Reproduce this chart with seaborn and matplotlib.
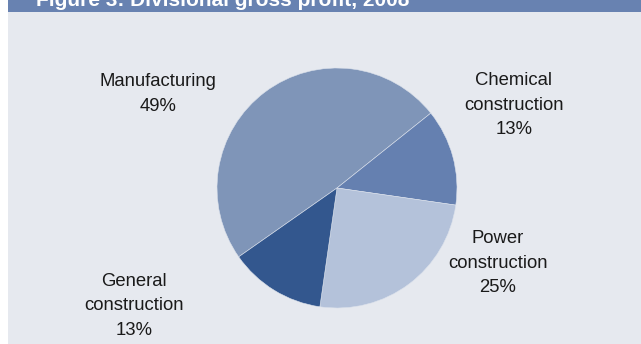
import matplotlib
matplotlib.use("Agg")
import matplotlib.pyplot as plt
import seaborn as sns
from matplotlib.patches import Rectangle

# Gross profit split by business segment
segments = ["Manufacturing", "Chemical\nconstruction", "Power\nconstruction", "General\nconstruction"]
shares = [49, 13, 25, 13]
segment_colors = ["#7F95B8", "#6580B0", "#B4C2DA", "#33578E"]
title = "Figure 3: Divisional gross profit, 2008"

sns.set_theme(style="white")
plt.rcParams["font.family"] = ["Liberation Sans", "DejaVu Sans"]

W, H = 641, 344
fig = plt.figure(figsize=(W / 100, H / 100), dpi=100, facecolor="white")

# panel background and header band
fig.patches.append(Rectangle((8 / W, 0), 1 - 8 / W, 1, transform=fig.transFigure,
                             facecolor="#E6E9EF", edgecolor="none", zorder=0))
fig.patches.append(Rectangle((8 / W, 1 - 12 / H), 1 - 8 / W, 12 / H, transform=fig.transFigure,
                             facecolor="#6882B1", edgecolor="none", zorder=1))
fig.text(36 / W, 1 - 6.5 / H, title, color="white", fontsize=15, fontweight="bold",
         va="baseline", ha="left", zorder=2)

# pie centred at (337, 188) px with radius 120 px
cx, cy, r = 337, 188, 120
ax = fig.add_axes([(cx - r) / W, (H - cy - r) / H, 2 * r / W, 2 * r / H])
ax.set_zorder(5)
ax.set_facecolor("none")
ax.patch.set_alpha(0)
ax.pie(shares, colors=segment_colors, startangle=215, counterclock=False, radius=1,
       wedgeprops=dict(edgecolor="#DCE2EC", linewidth=0.4))
ax.set_xlim(-1, 1)
ax.set_ylim(-1, 1)
ax.set_aspect("equal")
ax.axis("off")

# outside labels: name plus share
label_pos = [(158, 94), (514, 105), (498, 263), (134, 306)]
for name, share, (x, y) in zip(segments, shares, label_pos):
    fig.text(x / W, 1 - y / H, f"{name}\n{share}%", ha="center", va="center",
             fontsize=13.3, color="#1A1A1A", linespacing=1.55, multialignment="center",
             zorder=6)

fig.savefig("out.png", dpi=100, facecolor="white")
